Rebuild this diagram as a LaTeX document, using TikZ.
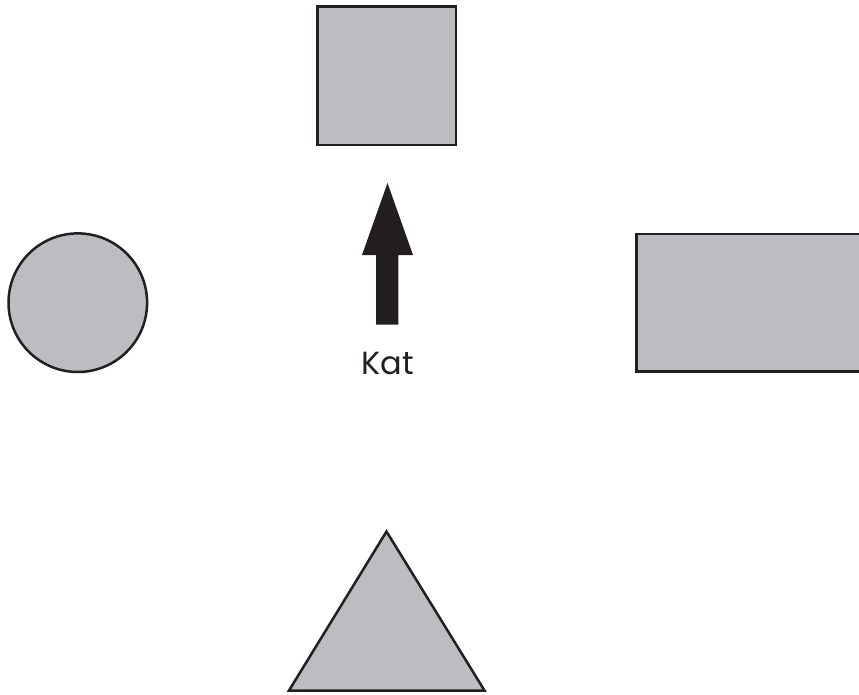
\documentclass[tikz,border=0pt]{standalone}
\usepackage{fontspec}
\setmainfont{Poppins}
\usetikzlibrary{shapes.geometric}
\definecolor{shapefill}{HTML}{BCBDC1}
\definecolor{ink}{HTML}{231F20}
\begin{document}
\begin{tikzpicture}[x=1pt,y=-1pt,
  shapestyle/.style={draw=ink,fill=shapefill,line width=2.5pt},
  labelstyle/.style={font=\fontsize{32}{36}\selectfont,text=ink,inner sep=0pt}]
\useasboundingbox (0,0) rectangle (859,695);
% square
\draw[shapestyle] (317.5,6.5) rectangle (456,145);
% circle
\draw[shapestyle] (77.8,302.7) circle (69.3);
% rectangle (cut at the right edge)
\draw[shapestyle] (636.5,234) rectangle (870,371.5);
% triangle
\draw[shapestyle,line join=miter] (386.5,531.5) -- (289,690.5) -- (484.5,690.5) -- cycle;
% block arrow
\fill[ink] (387.5,183) -- (413,255) -- (398.3,255) -- (398.3,324.5) -- (376,324.5) -- (376,255) -- (362,255) -- cycle;
% label
\node[labelstyle,anchor=base] (kat) at (387.5,374) {Kat};
\end{tikzpicture}
\end{document}
